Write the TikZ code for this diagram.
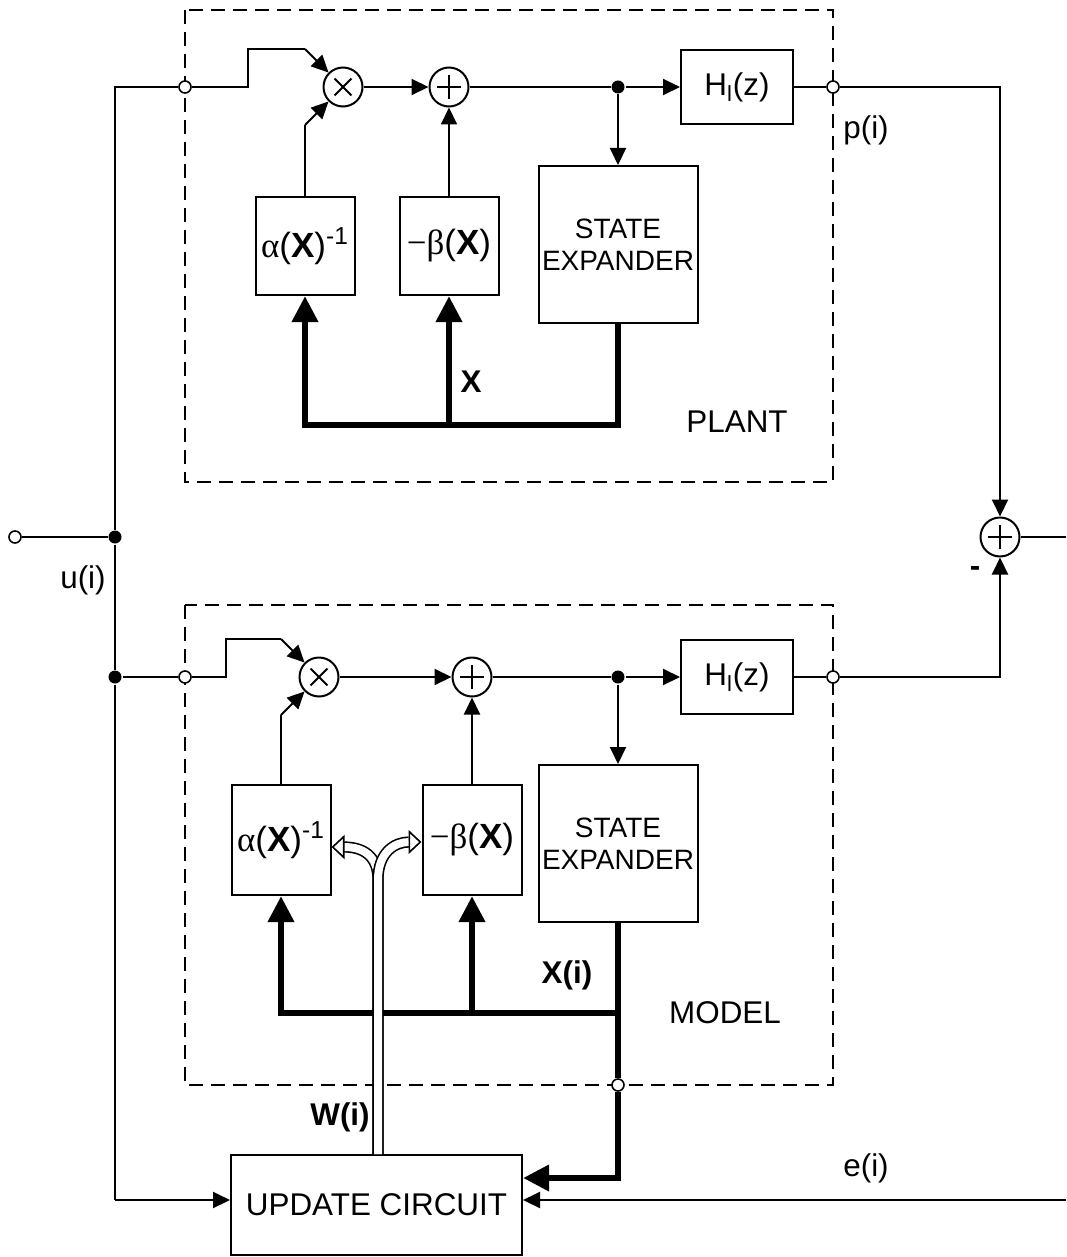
\documentclass[tikz,border=0pt]{standalone}
\usepackage{fontspec}
\setmainfont{Liberation Sans}
\newfontfamily\symfont{Liberation Serif}
\usetikzlibrary{arrows.meta}

\begin{document}
\begin{tikzpicture}[
    x=0.5pt, y=-0.5pt,
    font=\fontsize{15.7}{18}\selectfont,
    line width=1pt,
    block/.style={draw, line width=1pt, inner sep=0pt, align=center},
    gain/.style={block, minimum width=49.5pt, font=\fontsize{17.5}{20}\selectfont},
    expander/.style={block, minimum width=79.5pt, minimum height=78.5pt, font=\fontsize{14}{16}\selectfont},
    frame/.style={draw, line width=1pt, dash pattern=on 7pt off 4pt},
    arrow/.style={-{Triangle[length=8.5pt,width=8pt]}, line width=1pt},
    bus/.style={line width=3.2pt},
    busarrow/.style={-{Triangle[length=13pt,width=12.5pt]}, line width=3.2pt},
    wline/.style={double, double distance=4pt, line width=0.8pt, -{Triangle[open,length=6.5pt,width=12pt]}},
    dot/.style={circle, fill, inner sep=0pt, minimum size=6.5pt},
    port/.style={circle, draw, fill=white, inner sep=0pt, minimum size=6pt, line width=0.8pt},
    plus/.style={circle, draw, inner sep=0pt, minimum size=19.5pt, path picture={
        \draw ([xshift=-6pt]path picture bounding box.center) -- ([xshift=6pt]path picture bounding box.center);
        \draw ([yshift=-6pt]path picture bounding box.center) -- ([yshift=6pt]path picture bounding box.center);}},
    times/.style={circle, draw, inner sep=0pt, minimum size=19.5pt, path picture={
        \draw ([shift={(-4.2pt,-4.2pt)}]path picture bounding box.center) -- ([shift={(4.2pt,4.2pt)}]path picture bounding box.center);
        \draw ([shift={(-4.2pt,4.2pt)}]path picture bounding box.center) -- ([shift={(4.2pt,-4.2pt)}]path picture bounding box.center);}}
]
\useasboundingbox (0,0) rectangle (1066,1257);

\draw[frame] (185,10) rectangle (833,482);
\draw[frame] (185,605) rectangle (833,1085);

\node[port] (pin) at (185,87) {};
\node[times] (pmul) at (343,87) {};
\node[plus] (psum) at (449,87) {};
\node[dot] (pdot) at (618,87) {};
\node[block, minimum width=56pt, minimum height=37pt] (pH) at (737,87) {H\textsubscript{l}(z)};
\node[port] (pout) at (833,87) {};
\node[gain, minimum height=49pt] (palpha) at (305,246) {{\symfont α}(\textbf{X})\textsuperscript{-1}};
\node[gain, minimum height=49pt] (pbeta) at (449,246) {{\symfont −β}(\textbf{X})};
\node[expander] (pse) at (618,244.5) {STATE\\EXPANDER};
\coordinate (ptop) at (115,87);
\coordinate (pstepa) at (248,87);
\coordinate (pstepb) at (248,49);
\coordinate (pstepc) at (305,49);
\coordinate (palphak) at (305,125);
\coordinate (pbusa) at (618,425);
\coordinate (pbusb) at (305,425);
\coordinate (pbusc) at (449,425);
\node (xlab) at (471,382) {\textbf{X}};
\node (plant) at (737,422) {PLANT};
\node (plab) at (866,130) {p(i)};

\node[plus] (rsum) at (1000,537) {};
\coordinate (rout) at (1066,537);
\node (minus) at (975,571) {\textbf{-}};

\node[port] (uin) at (15,537) {};
\node[dot] (udot) at (115,537) {};
\node (ulab) at (83,580) {u(i)};

\node[dot] (mdota) at (115,677) {};
\node[port] (min) at (185,677) {};
\node[times] (mmul) at (319,677) {};
\node[plus] (msum) at (472,677) {};
\node[dot] (mdot) at (618,677) {};
\node[block, minimum width=56pt, minimum height=37pt] (mH) at (737,677) {H\textsubscript{l}(z)};
\node[port] (mout) at (833,677) {};
\node[gain, minimum height=55pt] (malpha) at (281,840) {{\symfont α}(\textbf{X})\textsuperscript{-1}};
\node[gain, minimum height=55pt] (mbeta) at (472,840) {{\symfont −β}(\textbf{X})};
\node[expander] (mse) at (618,843.5) {STATE\\EXPANDER};
\node[port] (mport) at (618,1085) {};
\coordinate (mstepa) at (226,677);
\coordinate (mstepb) at (226,639);
\coordinate (mstepc) at (281,639);
\coordinate (malphak) at (281,715);
\coordinate (mbusa) at (618,1013);
\coordinate (mbusb) at (281,1013);
\coordinate (mbusc) at (472,1013);
\coordinate (mbend) at (618,1178);
\node (xilab) at (567,975) {\textbf{X(i)}};
\node (model) at (725,1013) {MODEL};

\node[block, minimum width=145.5pt, minimum height=50pt] (upd) at (376.5,1205) {UPDATE CIRCUIT};
\coordinate (ubot) at (115,1200);
\coordinate (ein) at (1066,1200);
\coordinate (wsplit) at (378,880);
\node (elab) at (866,1168) {e(i)};
\node (wlab) at (340,1117) {\textbf{W(i)}};

\draw (pin) -- (ptop) -- (udot) -- (mdota) -- (ubot);
\draw[arrow] (ubot) -- (ubot -| upd.west);
\draw (uin) -- (udot);
\draw (rsum) -- (rout);

\draw (pin) -- (pstepa) -- (pstepb) -- (pstepc);
\draw[arrow] (pstepc) -- (pmul);
\draw (palpha.north) -- (palphak);
\draw[arrow] (palphak) -- (pmul);
\draw[arrow] (pmul) -- (psum);
\draw[arrow] (pbeta) -- (psum);
\draw (psum) -- (pdot);
\draw[arrow] (pdot) -- (pH);
\draw[arrow] (pdot) -- (pse);
\draw (pH) -- (pout);
\draw[arrow] (pout) -| (rsum);
\draw[busarrow] (pse.south) -- (pbusa) -- (pbusb) -- (palpha.south);
\draw[busarrow] (pbusc) -- (pbeta);

\draw (mdota) -- (min);
\draw (min) -- (mstepa) -- (mstepb) -- (mstepc);
\draw[arrow] (mstepc) -- (mmul);
\draw (malpha.north) -- (malphak);
\draw[arrow] (malphak) -- (mmul);
\draw[arrow] (mmul) -- (msum);
\draw[arrow] (mbeta) -- (msum);
\draw (msum) -- (mdot);
\draw[arrow] (mdot) -- (mH);
\draw[arrow] (mdot) -- (mse);
\draw (mH) -- (mout);
\draw[arrow] (mout) -| (rsum);
\draw[busarrow] (mse.south) -- (mbusa) -- (mbusb) -- (malpha.south);
\draw[busarrow] (mbusc) -- (mbeta);
\draw[bus] (mbusa) -- (mport);
\draw[busarrow] (mport) -- (mbend) -- (mbend -| upd.east);
\draw[arrow] (ein) -- (ein -| upd.east);

\draw[wline] (upd.north -| wsplit) -- (wsplit) .. controls (378,855) and (362,847) .. ([yshift=-3.5pt]malpha.east);
\draw[wline] (upd.north -| wsplit) -- (wsplit) .. controls (378,852) and (395,842) .. ([yshift=-1pt]mbeta.west);
\end{tikzpicture}
\end{document}
